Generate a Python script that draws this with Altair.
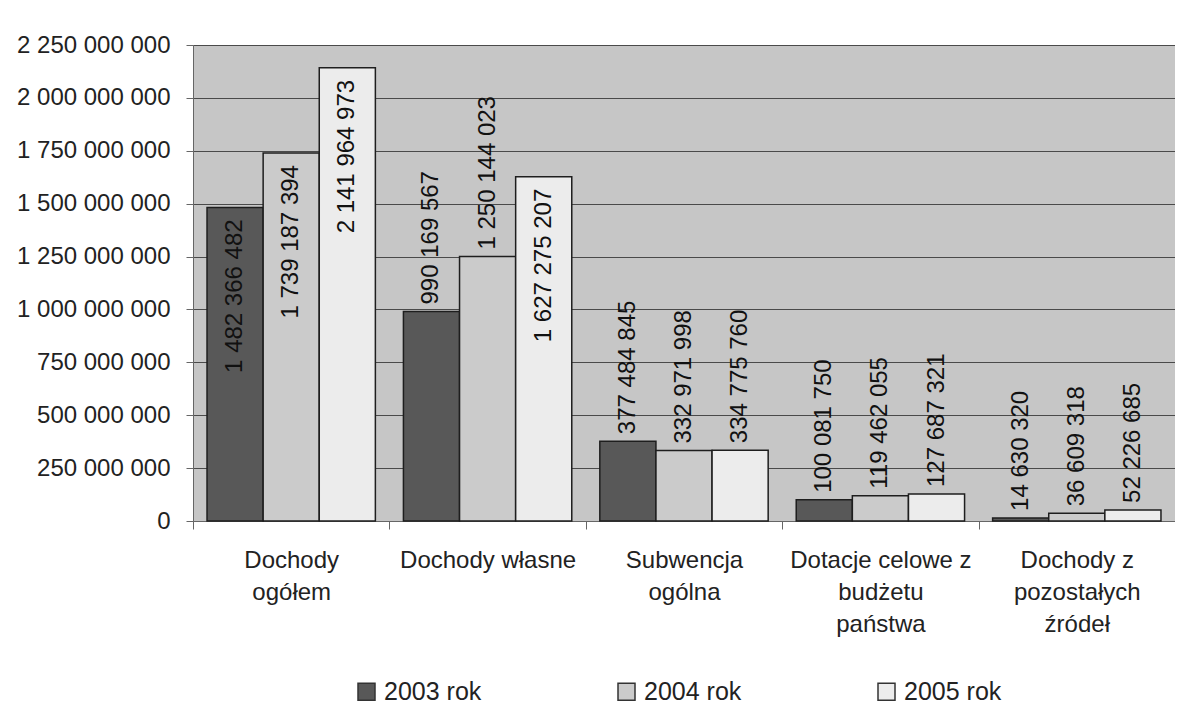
import altair as alt
import pandas as pd

categories = ["Dochody\nogółem", "Dochody własne", "Subwencja\nogólna",
              "Dotacje celowe z\nbudżetu\npaństwa", "Dochody z\npozostałych\nźródeł"]
series = ["2003 rok", "2004 rok", "2005 rok"]
values_2003 = [1482366482, 990169567, 377484845, 100081750, 14630320]
values_2004 = [1739187394, 1250144023, 332971998, 119462055, 36609318]
values_2005 = [2141964973, 1627275207, 334775760, 127687321, 52226685]
y_ticks = [0, 250000000, 500000000, 750000000, 1000000000, 1250000000,
           1500000000, 1750000000, 2000000000, 2250000000]
colors = ["#585858", "#cbcbcb", "#ececec"]

rows = []
for s, vals in zip(series, [values_2003, values_2004, values_2005]):
    for c, v in zip(categories, vals):
        rows.append({"category": c, "series": s, "value": v,
                     "label": f"{v:,}".replace(",", " ")})
df = pd.DataFrame(rows)

FONT = "Liberation Sans"
ylab = "replace(replace(replace(format(datum.value, ','), ',', ' '), ',', ' '), ',', ' ')"

base = alt.Chart(df).encode(
    x=alt.X("category:N", sort=categories,
            scale=alt.Scale(paddingInner=0, paddingOuter=0),
            axis=alt.Axis(title=None, labelAngle=0, tickBand="extent",
                          labelExpr="split(datum.label, '\\n')",
                          labelLineHeight=32, labelFontSize=24, labelFont=FONT,
                          labelColor="#222", labelPadding=19, labelBaseline="top",
                          tickSize=8, tickColor="#666", domainColor="#666",
                          labelLimit=300, grid=False)),
    xOffset=alt.XOffset("series:N", sort=series,
                        scale=alt.Scale(paddingInner=0, paddingOuter=0.25)),
    y=alt.Y("value:Q", scale=alt.Scale(domain=[0, 2250000000], nice=False),
            axis=alt.Axis(title=None, values=y_ticks, labelExpr=ylab,
                          labelFontSize=24, labelFont=FONT, labelColor="#222",
                          labelPadding=16, tickSize=7, tickColor="#666",
                          domainColor="#666", gridColor="#4a4a4a", gridWidth=1.2)),
)

bars = base.mark_bar(stroke="#1e1e1e", strokeWidth=1.5).encode(
    color=alt.Color("series:N", sort=series,
                    scale=alt.Scale(domain=series, range=colors),
                    legend=alt.Legend(orient="none", legendX=161, legendY=634,
                                      direction="horizontal", title=None,
                                      symbolType="square", symbolSize=289,
                                      symbolStrokeColor="#333", symbolStrokeWidth=1.5,
                                      labelFontSize=25, labelFont=FONT,
                                      labelColor="#222", columnPadding=132,
                                      padding=0, labelOffset=5))
)

text_out = base.transform_filter(alt.datum.value < 1400000000).mark_text(
    angle=270, align="left", baseline="middle", dx=7, fontSize=24,
    font=FONT, color="#111").encode(text="label:N")

text_in = base.transform_filter(alt.datum.value >= 1400000000).mark_text(
    angle=270, align="right", baseline="middle", dx=-12, fontSize=24,
    font=FONT, color="#111").encode(text="label:N")

chart = alt.layer(bars, text_out, text_in).properties(
    width=982, height=476,
    autosize=alt.AutoSizeParams(type="none"),
    padding={"left": 185, "top": 37, "right": 0, "bottom": 188},
).configure_view(fill="#c6c6c6", strokeWidth=0)

chart.save("out.html", embed_options={"renderer": "svg", "actions": False})
